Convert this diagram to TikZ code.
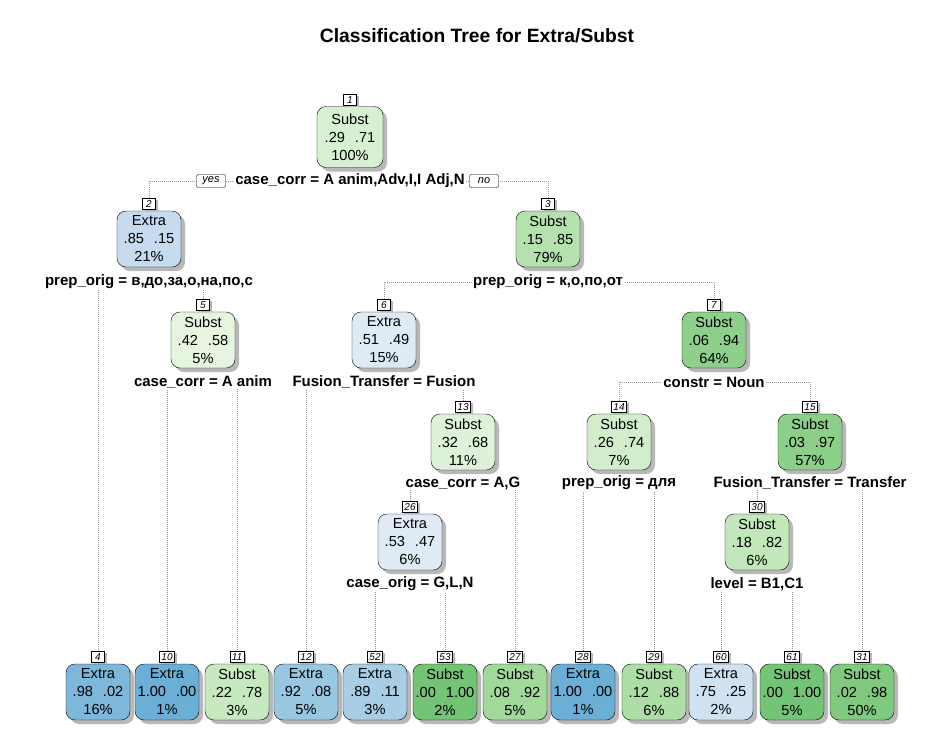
\documentclass[tikz,border=0pt]{standalone}
\usepackage{fontspec}
\setmainfont{Liberation Sans}
\usetikzlibrary{positioning,shadows,backgrounds}

\definecolor{ex100}{HTML}{6BAED6}
\definecolor{ex98}{HTML}{7DB8DA}
\definecolor{ex92}{HTML}{98C7E1}
\definecolor{ex89}{HTML}{A8CEE5}
\definecolor{ex85}{HTML}{C6DBEF}
\definecolor{ex75}{HTML}{D0E2F2}
\definecolor{ex53}{HTML}{DEEBF7}
\definecolor{su100}{HTML}{74C476}
\definecolor{su98}{HTML}{80CA80}
\definecolor{su97}{HTML}{8BCF89}
\definecolor{su94}{HTML}{8ED08B}
\definecolor{su92}{HTML}{A1D99B}
\definecolor{su88}{HTML}{ADDEA6}
\definecolor{su85}{HTML}{B4E1AD}
\definecolor{su82}{HTML}{C2E7BB}
\definecolor{su78}{HTML}{C7E9C0}
\definecolor{su74}{HTML}{D1EDCB}
\definecolor{su71}{HTML}{D8F0D2}
\definecolor{su68}{HTML}{DDF2D8}
\definecolor{su58}{HTML}{E5F5E0}

\newcommand{\probgap}{\hspace{10pt}}

\tikzset{
  treebox/.style={draw=black, rounded corners=9pt, minimum width=64pt, minimum height=56pt,
    inner sep=2pt, align=center, font=\fontsize{14.6}{18}\selectfont,
    drop shadow={shadow xshift=4pt, shadow yshift=-4pt, fill=black!28, opacity=1}},
  numlab/.style={draw=black, fill=white, inner xsep=2pt, inner ysep=0pt, minimum width=13pt,
    minimum height=11pt, font=\fontsize{10}{10}\selectfont\itshape,
    drop shadow={shadow xshift=2pt, shadow yshift=-1.5pt, fill=black!28, opacity=1}},
  splitlab/.style={fill=white, inner sep=1pt, font=\fontsize{15}{17}\selectfont\bfseries},
  yesno/.style={draw=black, fill=white, rounded corners=2pt, inner xsep=3pt, inner ysep=0pt,
    minimum width=29pt, minimum height=13pt, font=\fontsize{11}{12}\selectfont\itshape},
  branch/.style={draw=black!40, dash pattern=on 1pt off 1pt, line width=0.5pt},
  title/.style={font=\fontsize{19.3}{21}\selectfont\bfseries}
}

\begin{document}
\begin{tikzpicture}[x=1pt, y=-1pt]
\useasboundingbox (0,0) rectangle (944,745);

\node[title] (title) at (477,36) {Classification Tree for Extra/Subst};

% root
\node[treebox, fill=su71, minimum width=66pt, minimum height=61pt] (n1) at (350,137) {Subst\\.29\probgap.71\\100\%};
\node[numlab, above=1pt of n1] (l1) {1};
\node[splitlab] (s1) at (350,181) {case\_corr = A anim,Adv,I,I Adj,N};
\node[yesno] (yes) at (211,181) {yes};
\node[yesno] (no) at (484,181) {no};

% inner nodes
\node[treebox, fill=ex85] (n2) at (149,239) {Extra\\.85\probgap.15\\21\%};
\node[numlab, above=1pt of n2] (l2) {2};
\node[splitlab] (s2) at (149,282) {prep\_orig = в,до,за,о,на,по,с};

\node[treebox, fill=su85] (n3) at (548,239) {Subst\\.15\probgap.85\\79\%};
\node[numlab, above=1pt of n3] (l3) {3};
\node[splitlab] (s3) at (548,282) {prep\_orig = к,о,по,от};

\node[treebox, fill=su58] (n5) at (203,340) {Subst\\.42\probgap.58\\5\%};
\node[numlab, above=1pt of n5] (l5) {5};
\node[splitlab] (s5) at (203,382) {case\_corr = A anim};

\node[treebox, fill=ex53] (n6) at (384,340) {Extra\\.51\probgap.49\\15\%};
\node[numlab, above=1pt of n6] (l6) {6};
\node[splitlab] (s6) at (384,382) {Fusion\_Transfer = Fusion};

\node[treebox, fill=su94] (n7) at (714,340) {Subst\\.06\probgap.94\\64\%};
\node[numlab, above=1pt of n7] (l7) {7};
\node[splitlab] (s7) at (714,382) {constr = Noun};

\node[treebox, fill=su68] (n13) at (463,442) {Subst\\.32\probgap.68\\11\%};
\node[numlab, above=1pt of n13] (l13) {13};
\node[splitlab] (s13) at (463,483) {case\_corr = A,G};

\node[treebox, fill=su74] (n14) at (619,442) {Subst\\.26\probgap.74\\7\%};
\node[numlab, above=1pt of n14] (l14) {14};
\node[splitlab] (s14) at (619,483) {prep\_orig = для};

\node[treebox, fill=su97] (n15) at (810,442) {Subst\\.03\probgap.97\\57\%};
\node[numlab, above=1pt of n15] (l15) {15};
\node[splitlab] (s15) at (810,483) {Fusion\_Transfer = Transfer};

\node[treebox, fill=ex53] (n26) at (410,542) {Extra\\.53\probgap.47\\6\%};
\node[numlab, above=1pt of n26] (l26) {26};
\node[splitlab] (s26) at (410,584) {case\_orig = G,L,N};

\node[treebox, fill=su82] (n30) at (757,542) {Subst\\.18\probgap.82\\6\%};
\node[numlab, above=1pt of n30] (l30) {30};
\node[splitlab] (s30) at (757,584) {level = B1,C1};

% leaves
\node[treebox, fill=ex98] (n4) at (98,692) {Extra\\.98\probgap.02\\16\%};
\node[numlab, above=1pt of n4] (l4) {4};
\node[treebox, fill=ex100] (n10) at (167,692) {Extra\\1.00\probgap.00\\1\%};
\node[numlab, above=1pt of n10] (l10) {10};
\node[treebox, fill=su78] (n11) at (237,692) {Subst\\.22\probgap.78\\3\%};
\node[numlab, above=1pt of n11] (l11) {11};
\node[treebox, fill=ex92] (n12) at (306,692) {Extra\\.92\probgap.08\\5\%};
\node[numlab, above=1pt of n12] (l12) {12};
\node[treebox, fill=ex89] (n52) at (375,692) {Extra\\.89\probgap.11\\3\%};
\node[numlab, above=1pt of n52] (l52) {52};
\node[treebox, fill=su100] (n53) at (445,692) {Subst\\.00\probgap1.00\\2\%};
\node[numlab, above=1pt of n53] (l53) {53};
\node[treebox, fill=su92] (n27) at (515,692) {Subst\\.08\probgap.92\\5\%};
\node[numlab, above=1pt of n27] (l27) {27};
\node[treebox, fill=ex100] (n28) at (583,692) {Extra\\1.00\probgap.00\\1\%};
\node[numlab, above=1pt of n28] (l28) {28};
\node[treebox, fill=su88] (n29) at (654,692) {Subst\\.12\probgap.88\\6\%};
\node[numlab, above=1pt of n29] (l29) {29};
\node[treebox, fill=ex75] (n60) at (721,692) {Extra\\.75\probgap.25\\2\%};
\node[numlab, above=1pt of n60] (l60) {60};
\node[treebox, fill=su100] (n61) at (792,692) {Subst\\.00\probgap1.00\\5\%};
\node[numlab, above=1pt of n61] (l61) {61};
\node[treebox, fill=su98] (n31) at (862,692) {Subst\\.02\probgap.98\\50\%};
\node[numlab, above=1pt of n31] (l31) {31};

% branches, behind the labels
\begin{scope}[on background layer]
\fill[white] (0,0) rectangle (944,745);
\draw[branch] (l2.north) |- (s1.center) -| (l3.north);
\draw[branch] (l4.north) |- (s2.center) -| (l5.north);
\draw[branch] (l6.north) |- (s3.center) -| (l7.north);
\draw[branch] (l10.north) |- (s5.center) -| (l11.north);
\draw[branch] (l12.north) |- (s6.center) -| (l13.north);
\draw[branch] (l14.north) |- (s7.center) -| (l15.north);
\draw[branch] (l26.north) |- (s13.center) -| (l27.north);
\draw[branch] (l28.north) |- (s14.center) -| (l29.north);
\draw[branch] (l30.north) |- (s15.center) -| (l31.north);
\draw[branch] (l52.north) |- (s26.center) -| (l53.north);
\draw[branch] (l60.north) |- (s30.center) -| (l61.north);
\end{scope}
\end{tikzpicture}
\end{document}
